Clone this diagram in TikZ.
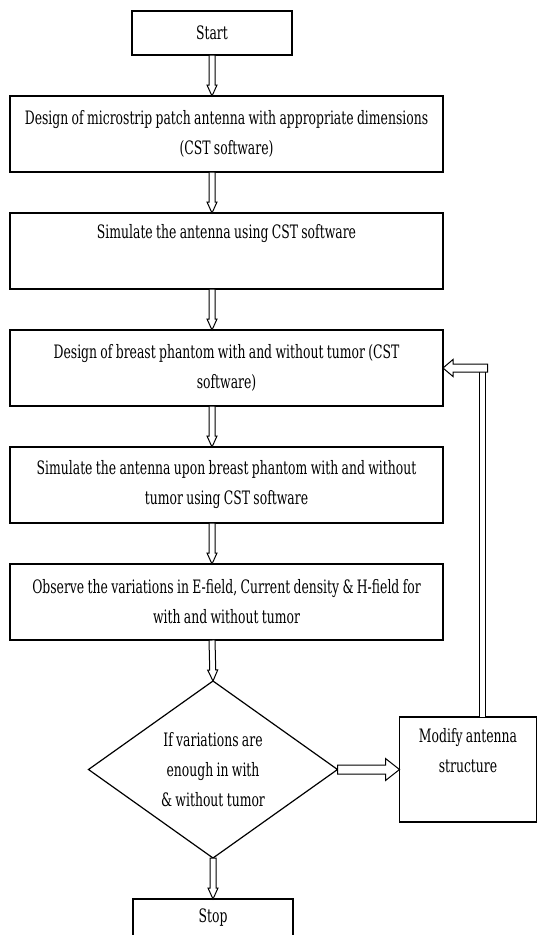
\documentclass[tikz,border=0pt]{standalone}
\usepackage{fontspec}
\setmainfont[FakeStretch=0.67, WordSpace=0.85]{DejaVu Serif}
\usetikzlibrary{
  calc,
  positioning,
  shapes,
}
\tikzset{
  node distance=41pt,
  x=1pt,
  y=-1pt,
  n/.style={
    draw, line width=1.2pt, inner sep=0pt, outer sep=0pt, align=flush center,
    font=\fontsize{18.5}{30}\selectfont,
  },
  box/.style={n, minimum width=433pt, minimum height=76pt, text width=427pt},
  sbox/.style={n, minimum width=160pt, minimum height=44pt},
  dec/.style={n, diamond, aspect=1.41, minimum width=249pt, minimum height=177pt},
  mbox/.style={n, minimum width=137pt, minimum height=105pt},
  blockarrow/.style n args={3}{draw, fill=white, line width=1pt, to path={
      ($(\tikztostart)!#1!90:(\tikztotarget)$)
      -- ($(\tikztotarget)!#3!(\tikztostart)!#1!90:(\tikztotarget)$)
      -- ($(\tikztotarget)!#3!(\tikztostart)!#2!90:(\tikztotarget)$)
      -- (\tikztotarget)
      -- ($(\tikztotarget)!#3!(\tikztostart)!#2!-90:(\tikztotarget)$)
      -- ($(\tikztotarget)!#3!(\tikztostart)!#1!-90:(\tikztotarget)$)
      -- ($(\tikztostart)!#1!-90:(\tikztotarget)$)
      -- cycle}},
  darrow/.style={blockarrow={3pt}{5pt}{11pt}},
  rarrow/.style={blockarrow={4.5pt}{11pt}{14pt}},
  larrow/.style={blockarrow={4pt}{8.5pt}{10pt}},
  dline/.style={draw, double, double distance=5pt, line width=1pt},
}

\begin{document}
\begin{tikzpicture}
  \useasboundingbox (0,0) rectangle (539,935);
  \node[sbox](start) at (212,33){Start};
  \node[box, below=of start, xshift=14.5pt](design){Design of microstrip patch antenna with appropriate dimensions\\(CST software)};
  \node[box, below=of design](sim){Simulate the antenna using CST software\\\strut};
  \node[box, below=of sim](phantom){Design of breast phantom with and without tumor (CST\\software)};
  \node[box, below=of phantom](simph){Simulate the antenna upon breast phantom with and without\\tumor using CST software};
  \node[box, below=of simph](obs){Observe the variations in E-field, Current density \& H-field for\\with and without tumor};
  \node[dec, below=of obs, xshift=-13.5pt](ifvar){If variations are\\enough in with\\\& without tumor};
  \node[sbox, below=of ifvar, minimum height=37pt](stop){Stop};
  \node[mbox, right=62pt of ifvar](modify){Modify antenna\\structure\\\strut};
  %%
  \draw[darrow](start.south) to (start.south |- design.north);
  \draw[darrow](design.south -| start.south) to (sim.north -| start.south);
  \draw[darrow](sim.south -| start.south) to (phantom.north -| start.south);
  \draw[darrow](phantom.south -| start.south) to (simph.north -| start.south);
  \draw[darrow](simph.south -| start.south) to (obs.north -| start.south);
  \draw[darrow](obs.south -| start.south) to (ifvar.north);
  \draw[darrow](ifvar.south) to (stop.north);
  \draw[rarrow](ifvar.east) to (modify.west);
  %% loop back
  \coordinate[xshift=14.5pt](up) at (modify.north);
  \coordinate[xshift=5pt](fb) at (up |- phantom.east);
  \draw[dline](up) -- (up |- fb);
  \draw[larrow](fb) to (phantom.east);
\end{tikzpicture}
\end{document}
